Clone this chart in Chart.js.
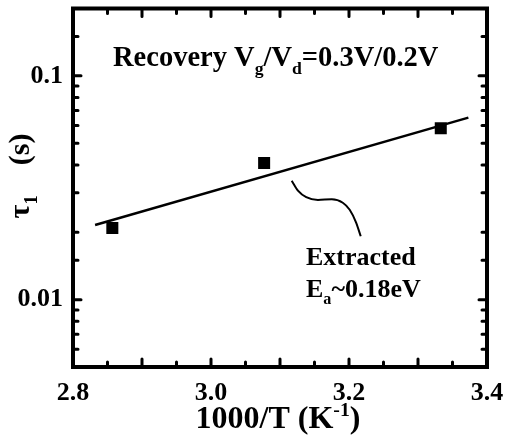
<!DOCTYPE html>
<html>
<head>
<meta charset="utf-8">
<script src="https://cdn.jsdelivr.net/npm/chart.js@4.4.0/dist/chart.umd.min.js"></script>
<style>
  html, body { margin: 0; padding: 0; background: #fff; }
  #tauChart { display: block; }
</style>
</head>
<body>
<canvas id="tauChart" width="505" height="440"></canvas>
<script>
// 1000/T (K^-1) against recovery time constant tau1 (s)
const invTemp = [2.857, 3.077, 3.333];
const tau1 = [0.0209, 0.0408, 0.0583];

// Arrhenius fit end points
const fitInvTemp = [2.832, 3.373];
const fitTau = [0.02155, 0.0651];

// curved pointer from the fit line down to the Ea label
const pointerInvTemp = [3.117, 3.126, 3.138, 3.155, 3.175, 3.191, 3.201, 3.210, 3.217];
const pointerTau = [0.0340, 0.0307, 0.0287, 0.0279, 0.0281, 0.0271, 0.0252, 0.0222, 0.0192];

const xTickLabels = ['2.8', '3.0', '3.2', '3.4'];
const yTickLabels = ['0.01', '0.1'];

const FONT = '"Liberation Serif", "Times New Roman", serif';

const toPoints = (xs, ys) => xs.map((x, i) => ({ x: x, y: ys[i] }));

// draws a run of text pieces, some as sub/superscripts
const drawRich = (ctx, parts, x, y, size, align) => {
    let total = 0;
    parts.forEach(p => {
        p.size = (p.sub || p.sup) ? size * 0.62 : size;
        ctx.font = 'bold ' + p.size + 'px ' + FONT;
        p.w = ctx.measureText(p.t).width;
        total += p.w;
    });
    let cx = align === 'center' ? x - total / 2 : x;
    parts.forEach(p => {
        ctx.font = 'bold ' + p.size + 'px ' + FONT;
        const dy = p.sub ? size * 0.28 : (p.sup ? -size * 0.38 : 0);
        ctx.fillText(p.t, cx, y + dy);
        cx += p.w;
    });
};

// frame, inward tick marks and the text labels
const framePlugin = {
    id: 'frame',
    afterDraw(chart) {
        const ctx = chart.ctx;
        const a = chart.chartArea;
        const xs = chart.scales.x;
        const ys = chart.scales.y;
        ctx.save();
        ctx.strokeStyle = '#000';
        ctx.fillStyle = '#000';
        ctx.lineCap = 'round';

        // tick marks
        ctx.lineWidth = 3;
        xs.ticks.forEach(t => {
            const px = xs.getPixelForValue(t.value);
            const major = Math.abs(t.value * 10 - Math.round(t.value * 10)) < 1e-6;
            const len = major ? 8 : 5;
            ctx.beginPath();
            ctx.moveTo(px, a.bottom); ctx.lineTo(px, a.bottom - len);
            ctx.moveTo(px, a.top); ctx.lineTo(px, a.top + len);
            ctx.stroke();
        });
        ys.ticks.forEach(t => {
            const py = ys.getPixelForValue(t.value);
            const len = t.label ? 8 : 5;
            ctx.beginPath();
            ctx.moveTo(a.left, py); ctx.lineTo(a.left + len, py);
            ctx.moveTo(a.right, py); ctx.lineTo(a.right - len, py);
            ctx.stroke();
        });

        // frame
        ctx.lineCap = 'butt';
        ctx.lineWidth = 4;
        ctx.strokeRect(a.left, a.top, a.right - a.left, a.bottom - a.top);

        // labels
        ctx.textBaseline = 'alphabetic';
        ctx.textAlign = 'left';
        drawRich(ctx, [{ t: 'Recovery V' }, { t: 'g', sub: true }, { t: '/V' }, { t: 'd', sub: true }, { t: '=0.3V/0.2V' }], 113, 66, 28.5);
        drawRich(ctx, [{ t: 'Extracted' }], 306, 265, 26);
        drawRich(ctx, [{ t: 'E' }, { t: 'a', sub: true }, { t: '~0.18eV' }], 306, 297, 26);
        drawRich(ctx, [{ t: '1000/T (K' }, { t: '-1', sup: true }, { t: ')' }], 278, 428, 32, 'center');

        ctx.translate(29, 176);
        ctx.rotate(-Math.PI / 2);
        drawRich(ctx, [{ t: 'τ' }, { t: '1', sub: true }, { t: '    (s)' }], 0, 0, 30, 'center');
        ctx.restore();
    }
};

const tickFont = { family: FONT, size: 26, weight: 'bold' };

// keep the plot box where the layout padding puts it
const noOverhang = (scale) => {
    scale.paddingTop = 0;
    scale.paddingBottom = 0;
    scale.paddingLeft = 0;
    scale.paddingRight = 0;
};

new Chart(document.getElementById('tauChart'), {
    type: 'scatter',
    data: {
        datasets: [
            {
                data: toPoints(invTemp, tau1),
                pointStyle: 'rect',
                pointRadius: 8.5,
                backgroundColor: '#000',
                borderWidth: 0
            },
            {
                data: toPoints(fitInvTemp, fitTau),
                showLine: true,
                borderColor: '#000',
                borderWidth: 2.5,
                pointRadius: 0
            },
            {
                data: toPoints(pointerInvTemp, pointerTau),
                showLine: true,
                cubicInterpolationMode: 'monotone',
                borderColor: '#000',
                borderWidth: 2,
                pointRadius: 0
            }
        ]
    },
    options: {
        responsive: false,
        animation: false,
        layout: { padding: { top: 8, right: 18, left: 0, bottom: 0 } },
        plugins: {
            legend: { display: false },
            tooltip: { enabled: false }
        },
        scales: {
            x: {
                type: 'linear',
                min: 2.8,
                max: 3.4,
                grid: { display: false, drawTicks: false },
                border: { display: false },
                ticks: {
                    stepSize: 0.05,
                    autoSkip: false,
                    maxRotation: 0,
                    padding: 11,
                    color: '#000',
                    font: tickFont,
                    callback: (value) => {
                        const s = (Math.round(value * 20) / 20).toFixed(2);
                        const label = s.endsWith('0') ? s.slice(0, -1) : '';
                        return xTickLabels.includes(label) ? label : '';
                    }
                },
                afterFit: (scale) => { scale.height = 73; noOverhang(scale); }
            },
            y: {
                type: 'logarithmic',
                min: 0.005,
                max: 0.2,
                grid: { display: false, drawTicks: false },
                border: { display: false },
                ticks: {
                    autoSkip: false,
                    padding: 10,
                    color: '#000',
                    font: tickFont,
                    callback: (value) => yTickLabels.find(l => Math.abs(parseFloat(l) - value) / value < 1e-6) || ''
                },
                afterFit: (scale) => { scale.width = 73; noOverhang(scale); }
            }
        }
    },
    plugins: [framePlugin]
});
</script>
</body>
</html>
